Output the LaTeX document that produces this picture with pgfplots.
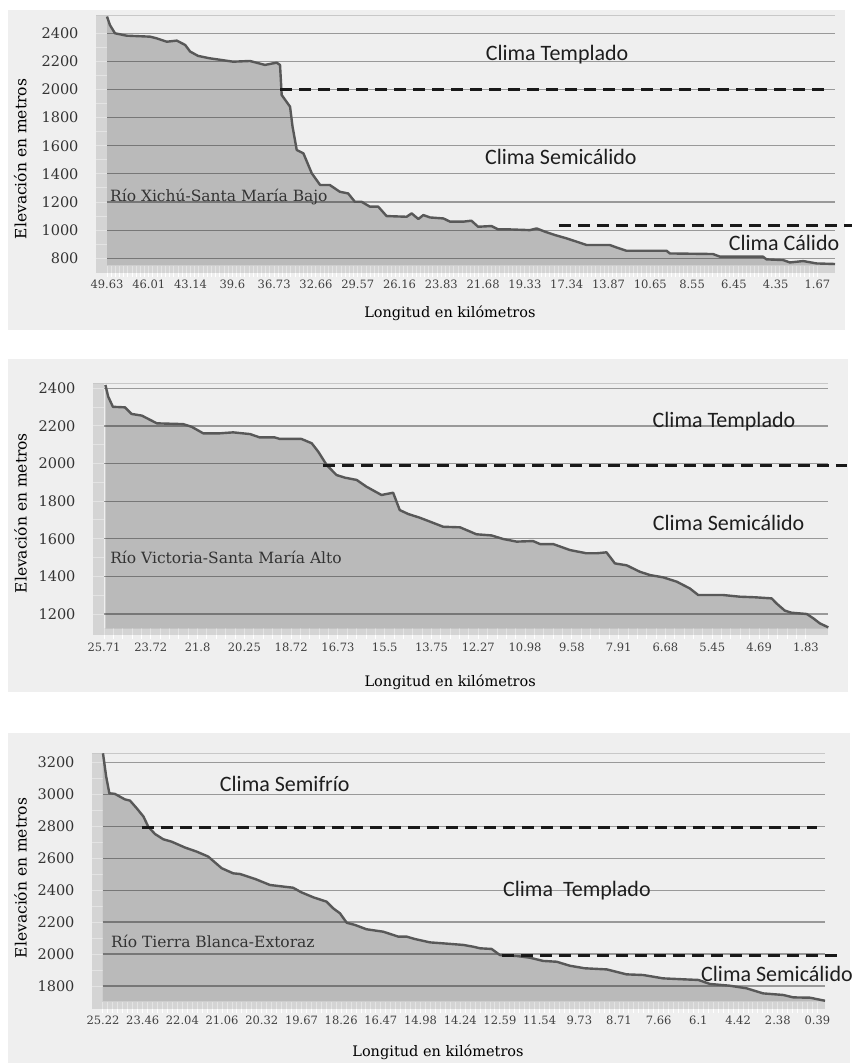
\documentclass[border=0pt]{standalone}
\usepackage{fontspec}
\setmainfont{DejaVu Serif}
\newfontfamily\calib{Carlito}
\usepackage{pgfplots}
\usepackage{pgfplotstable}
\pgfplotsset{compat=1.18}

\definecolor{bgc}{HTML}{EFEFEF}
\definecolor{linec}{HTML}{585858}
\definecolor{gridc}{HTML}{999999}
\definecolor{topc}{HTML}{C8C8C8}
\definecolor{tickc}{HTML}{404040}
\definecolor{labc}{HTML}{333333}
\definecolor{climac}{HTML}{1E1E1E}

% perfiles: x = posicion de la etiqueta (0,1,2,...), y = elevacion (m)
\pgfplotstableread{
u elev
0.00 2519
0.07 2459
0.19 2400
0.47 2383
1.03 2376
1.19 2364
1.43 2340
1.67 2348
1.87 2317
1.99 2270
2.18 2239
2.46 2222
3.02 2198
3.42 2203
3.78 2175
4.06 2191
4.14 2175
4.18 1961
4.38 1878
4.44 1736
4.54 1570
4.70 1546
4.90 1404
5.10 1321
5.33 1321
5.57 1273
5.77 1261
5.93 1202
6.09 1202
6.29 1167
6.49 1167
6.69 1100
7.17 1095
7.29 1119
7.45 1079
7.57 1107
7.73 1090
8.05 1083
8.21 1060
8.52 1060
8.72 1067
8.88 1024
9.20 1029
9.36 1005
9.64 1005
10.12 1000
10.28 1012
10.48 989
10.72 965
11.00 941
11.48 894
12.03 894
12.19 877
12.43 853
13.39 853
13.47 834
14.50 830
14.67 811
15.70 811
15.78 792
16.18 787
16.34 770
16.66 780
16.98 763
17.42 759
}\xichu

\pgfplotstableread{
u elev
0.03 2418
0.09 2356
0.19 2302
0.45 2299
0.59 2264
0.81 2255
1.13 2214
1.69 2210
1.87 2196
2.12 2161
2.48 2161
2.76 2166
3.12 2157
3.33 2139
3.65 2139
3.76 2131
4.22 2131
4.44 2108
4.58 2063
4.76 1992
4.97 1939
5.15 1925
5.40 1913
5.61 1877
5.93 1833
6.18 1845
6.32 1753
6.50 1732
6.75 1712
6.97 1691
7.25 1664
7.61 1661
7.96 1624
8.28 1618
8.53 1599
8.82 1585
9.17 1588
9.32 1572
9.60 1572
9.96 1540
10.31 1523
10.53 1523
10.74 1528
10.92 1469
11.17 1459
11.45 1425
11.67 1407
11.95 1395
12.24 1372
12.52 1336
12.70 1301
13.23 1301
13.59 1292
13.91 1289
14.27 1283
14.37 1257
14.55 1218
14.69 1207
15.02 1200
15.16 1177
15.30 1150
15.48 1129
}\victoria

\pgfplotstableread{
u elev
0.00 3256
0.08 3110
0.16 3006
0.30 3002
0.55 2968
0.68 2960
0.85 2912
1.02 2860
1.14 2797
1.31 2751
1.52 2718
1.73 2703
2.07 2666
2.36 2641
2.65 2610
2.99 2537
3.28 2505
3.45 2501
3.83 2470
4.21 2432
4.79 2415
5.00 2386
5.30 2355
5.63 2328
5.80 2286
5.97 2255
6.14 2196
6.35 2182
6.64 2155
7.06 2140
7.44 2109
7.65 2109
7.86 2094
8.24 2073
8.57 2067
9.08 2057
9.33 2046
9.50 2036
9.79 2032
10.00 1994
10.42 1988
10.76 1977
11.09 1957
11.43 1952
11.76 1927
12.14 1911
12.69 1904
13.19 1873
13.61 1869
14.11 1848
14.62 1842
15.00 1838
15.29 1813
15.79 1802
16.21 1786
16.63 1754
17.14 1744
17.39 1729
17.81 1727
18.19 1708
}\tierra

\tikzset{
  climatxt/.style={font=\calib\fontsize{22}{26}\selectfont, text=climac, inner sep=0pt},
  riotxt/.style={font=\fontsize{15.5}{18}\selectfont, text=labc, anchor=west, inner sep=0pt},
  limite/.style={draw=black!90, line width=3pt, dash pattern=on 12pt off 7pt},
  curva/.style={draw=linec, line width=2.4pt, line join=round},
  relleno/.style={fill=black, fill opacity=0.22, draw=none},
  muro/.style={fill=black, fill opacity=0.11, draw=none},
}

\pgfplotsset{
  perfil/.style={
    scale only axis, anchor=south west, clip=false,
    axis line style={draw=none},
    ymajorgrids, grid style={draw=gridc, line width=1.2pt},
    xmin=0, minor y tick num=1,
    tick pos=left,
    tick align=outside, major tick length=11pt, minor tick length=11pt,
    tick style={draw=white, line width=1pt},
    /pgf/number format/1000 sep={},
    /pgf/number format/assume math mode=true,
    xticklabel style={font=\fontsize{11.5}{13}\selectfont, text=tickc},
    yticklabel style={font=\fontsize{14.5}{16}\selectfont, text=labc, xshift=-14pt},
    label style={text=labc},
    xlabel={Longitud en kilómetros},
    ylabel={Elevación en metros},
  },
}

\begin{document}
\begin{tikzpicture}
\useasboundingbox (0,0) rectangle (855pt,1063pt);
\fill[white] (0,0) rectangle (855pt,1063pt);
\fill[bgc] (8pt,733pt) rectangle (845pt,1053pt);
\fill[bgc] (8pt,371pt) rectangle (848pt,704pt);
\fill[bgc] (8pt,0pt) rectangle (850pt,330pt);

% ---------- Rio Xichu-Santa Maria Bajo
\begin{axis}[perfil,
  at={(107pt,797.3pt)}, width=728pt, height=249.7pt,
  xmax=17.42, ymin=747, ymax=2523,
  ytick={800,1000,...,2400},
  xtick={0,...,17}, minor x tick num=9,
  xticklabels={49.63,46.01,43.14,39.6,36.73,32.66,29.57,26.16,23.83,21.68,19.33,17.34,13.87,10.65,8.55,6.45,4.35,1.67},
  every axis y label/.style={at={(axis description cs:-0.119,0.427)}, rotate=90, anchor=center, font=\fontsize{15.5}{18}\selectfont},
  every axis x label/.style={at={(axis description cs:0.471,-0.189)}, anchor=center, font=\fontsize{14.5}{17}\selectfont},
]
\fill[muro] ([xshift=-11pt]rel axis cs:0,0) rectangle (rel axis cs:0,1);
\fill[muro] ([yshift=-7pt]rel axis cs:0,0) rectangle (rel axis cs:1,0);
\fill[muro] ([xshift=-11pt,yshift=-7pt]rel axis cs:0,0) rectangle (rel axis cs:0,0);
\draw[topc, line width=1pt] ([xshift=-11pt]rel axis cs:0,1) -- (rel axis cs:1,1);
\addplot[relleno] table {\xichu} |- (axis cs:0,747) -- cycle;
\addplot[curva] table {\xichu};
\addplot[limite] coordinates {(4.14,2000) (17.30,2000)};
\addplot[limite] coordinates {(10.81,1030) (17.82,1030)};
\node[climatxt] at (axis cs:10.77,2245) {Clima Templado};
\node[climatxt] at (axis cs:10.86,1520) {Clima Semicálido};
\node[climatxt] at (axis cs:16.20,909) {Clima Cálido};
\node[riotxt] at (axis cs:0.07,1237) {Río Xichú-Santa María Bajo};
\end{axis}

% ---------- Rio Victoria-Santa Maria Alto
\begin{axis}[perfil,
  at={(104pt,434.7pt)}, width=724.3pt, height=245pt,
  xmax=15.48, ymin=1124, ymax=2427,
  ytick={1200,1400,...,2400},
  xtick={0,...,15}, minor x tick num=4,
  xticklabels={25.71,23.72,21.8,20.25,18.72,16.73,15.5,13.75,12.27,10.98,9.58,7.91,6.68,5.45,4.69,1.83},
  every axis y label/.style={at={(axis description cs:-0.1153,0.47)}, rotate=90, anchor=center, font=\fontsize{15.5}{18}\selectfont},
  every axis x label/.style={at={(axis description cs:0.478,-0.219)}, anchor=center, font=\fontsize{14.5}{17}\selectfont},
]
\fill[muro] ([xshift=-11pt]rel axis cs:0,0) rectangle (rel axis cs:0,1);
\fill[muro] ([yshift=-7pt]rel axis cs:0,0) rectangle (rel axis cs:1,0);
\fill[muro] ([xshift=-11pt,yshift=-7pt]rel axis cs:0,0) rectangle (rel axis cs:0,0);
\draw[topc, line width=1pt] ([xshift=-11pt]rel axis cs:0,1) -- (rel axis cs:1,1);
\addplot[relleno] table {\victoria} |- (axis cs:0.03,1124) -- cycle;
\addplot[curva] table {\victoria};
\addplot[limite] coordinates {(4.68,1992) (15.88,1992)};
\node[climatxt] at (axis cs:13.25,2221) {Clima Templado};
\node[climatxt] at (axis cs:13.35,1684) {Clima Semicálido};
\node[riotxt] at (axis cs:0.13,1503) {Río Victoria-Santa María Alto};
\end{axis}

% ---------- Rio Tierra Blanca-Extoraz
\begin{axis}[perfil,
  at={(103pt,61.3pt)}, width=722pt, height=248.4pt,
  xmax=18.19, ymin=1702, ymax=3256,
  ytick={1800,2000,...,3200},
  xtick={0,...,18}, minor x tick num=7,
  xticklabels={25.22,23.46,22.04,21.06,20.32,19.67,18.26,16.47,14.98,14.24,12.59,11.54,9.73,8.71,7.66,6.1,4.42,2.38,0.39},
  every axis y label/.style={at={(axis description cs:-0.1143,0.498)}, rotate=90, anchor=center, font=\fontsize{15.5}{18}\selectfont},
  every axis x label/.style={at={(axis description cs:0.464,-0.2025)}, anchor=center, font=\fontsize{14.5}{17}\selectfont},
]
\fill[muro] ([xshift=-11pt]rel axis cs:0,0) rectangle (rel axis cs:0,1);
\fill[muro] ([yshift=-7pt]rel axis cs:0,0) rectangle (rel axis cs:1,0);
\fill[muro] ([xshift=-11pt,yshift=-7pt]rel axis cs:0,0) rectangle (rel axis cs:0,0);
\draw[topc, line width=1pt] ([xshift=-11pt]rel axis cs:0,1) -- (rel axis cs:1,1);
\addplot[relleno] table {\tierra} |- (axis cs:0,1702) -- cycle;
\addplot[curva] table {\tierra};
\addplot[limite] coordinates {(0.98,2790) (17.98,2790)};
\addplot[limite] coordinates {(10.05,1990) (18.61,1990)};
\node[climatxt] at (axis cs:4.58,3064) {Clima Semifrío};
\node[climatxt] at (axis cs:11.94,2395) {Clima~~Templado};
\node[climatxt] at (axis cs:16.98,1875) {Clima Semicálido};
\node[riotxt] at (axis cs:0.20,2082) {Río Tierra Blanca-Extoraz};
\end{axis}
\end{tikzpicture}
\end{document}
